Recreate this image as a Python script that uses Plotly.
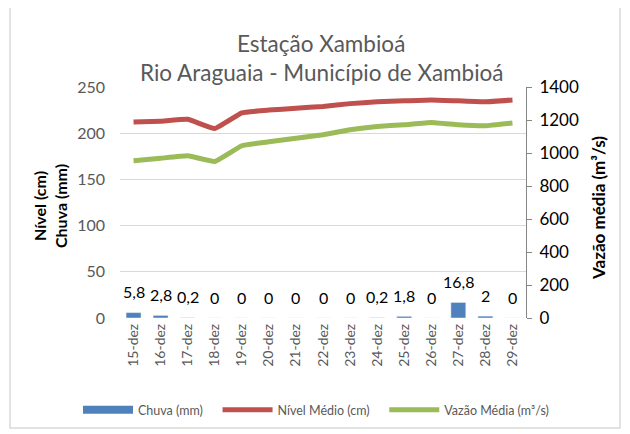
import plotly.graph_objects as go

dias = ["15-dez","16-dez","17-dez","18-dez","19-dez","20-dez","21-dez","22-dez",
        "23-dez","24-dez","25-dez","26-dez","27-dez","28-dez","29-dez"]
chuva = [5.8, 2.8, 0.2, 0, 0, 0, 0, 0, 0, 0.2, 1.8, 0, 16.8, 2, 0]
nivel = [212, 213, 215, 205, 222, 225, 227, 229, 232, 234, 235, 236, 235, 234, 236]
vazao = [953, 968, 983, 949, 1044, 1068, 1090, 1111, 1141, 1161, 1171, 1185, 1171, 1165, 1182]

FONT = "Lato"
W, H = 630, 434
OFF = 8  # page offset of the plot div
SX0, SX1, SY0, SY1 = 120, 526, 87, 318
L = SX0 - OFF
T = SY0 - OFF
R = W - (SX1 - OFF)
B = H - (SY1 - OFF)
pw, ph = W - L - R, H - T - B

def px(x):
    return (x - OFF - L) / pw

def py(y):
    return (H - B - (y - OFF)) / ph

PAD = "\u00a0\u00a0\u00a0"

fig = go.Figure()
fig.add_trace(go.Bar(x=dias, y=chuva, name="Chuva (mm)", marker_color="#4f81bd",
                     width=0.55, yaxis="y", showlegend=False))
fig.add_trace(go.Scatter(x=[None], y=[None], name="Chuva (mm)" + PAD, mode="lines",
                         line=dict(color="#4f81bd", width=8), yaxis="y"))
fig.add_trace(go.Scatter(x=dias, y=nivel, name="Nível Médio (cm)" + PAD, mode="lines",
                         line=dict(color="#c0504d", width=5, shape="spline", smoothing=0.3),
                         yaxis="y"))
fig.add_trace(go.Scatter(x=dias, y=vazao, name="Vazão Média (m³/s)", mode="lines",
                         line=dict(color="#9bbb59", width=5, shape="spline", smoothing=0.3),
                         yaxis="y2"))

annotations = []
for d, v in zip(dias, chuva):
    txt = ("%g" % v).replace(".", ",")
    annotations.append(dict(x=d, y=v, xref="x", yref="y", text=txt, showarrow=False,
                            yshift=21, yanchor="middle",
                            font=dict(family=FONT, size=16, color="#000000")))

annotations += [
    dict(xref="paper", yref="paper", x=px(321), y=py(43), text="Estação Xambioá",
         showarrow=False, xanchor="center", yanchor="middle",
         font=dict(family=FONT, size=22.5, color="#595959")),
    dict(xref="paper", yref="paper", x=px(322), y=py(72),
         text="Rio Araguaia - Município de Xambioá",
         showarrow=False, xanchor="center", yanchor="middle",
         font=dict(family=FONT, size=22.5, color="#595959")),
    dict(xref="paper", yref="paper", x=px(50), y=py(206),
         text="<b>Nível (cm)<br>Chuva (mm)</b>", textangle=-90,
         showarrow=False, xanchor="center", yanchor="middle",
         font=dict(family=FONT, size=16, color="#000000")),
    dict(xref="paper", yref="paper", x=px(598), y=py(208),
         text="<b>Vazão média (m³/s)</b>", textangle=-90,
         showarrow=False, xanchor="center", yanchor="middle",
         font=dict(family=FONT, size=17, color="#000000")),
]

fig.update_layout(
    width=W, height=H,
    margin=dict(l=L, r=R, t=T, b=B, autoexpand=False),
    paper_bgcolor="white", plot_bgcolor="white",
    font=dict(family=FONT, color="#595959"),
    xaxis=dict(tickangle=-90, tickfont=dict(size=14, color="#595959"), automargin=False,
               showgrid=False, showline=False, ticks="", zeroline=False,
               ticklabelstandoff=2),
    yaxis=dict(range=[0, 250], dtick=50, showgrid=True, gridcolor="#d9d9d9", gridwidth=1,
               zeroline=False, showline=False, ticks="", automargin=False,
               ticklabelstandoff=14,
               tickfont=dict(size=16, color="#595959")),
    yaxis2=dict(range=[0, 1400], dtick=200, overlaying="y", side="right", automargin=False,
                showgrid=False, zeroline=False, showline=True, linecolor="#868686",
                linewidth=1, ticks="outside", ticklen=5, tickcolor="#868686",
                ticklabelstandoff=4,
                tickfont=dict(size=17, color="#000000")),
    legend=dict(orientation="h", x=px(78), xanchor="left", y=py(410), yanchor="middle",
                font=dict(size=12.5, color="#595959"), traceorder="normal",
                itemwidth=50),
    annotations=annotations,
    shapes=[dict(type="rect", xref="paper", yref="paper",
                 x0=px(10), x1=px(620), y0=py(428), y1=py(7),
                 line=dict(color="#d9d9d9", width=1.5), fillcolor="rgba(0,0,0,0)")],
    showlegend=True,
)

fig.write_html("out.html")
